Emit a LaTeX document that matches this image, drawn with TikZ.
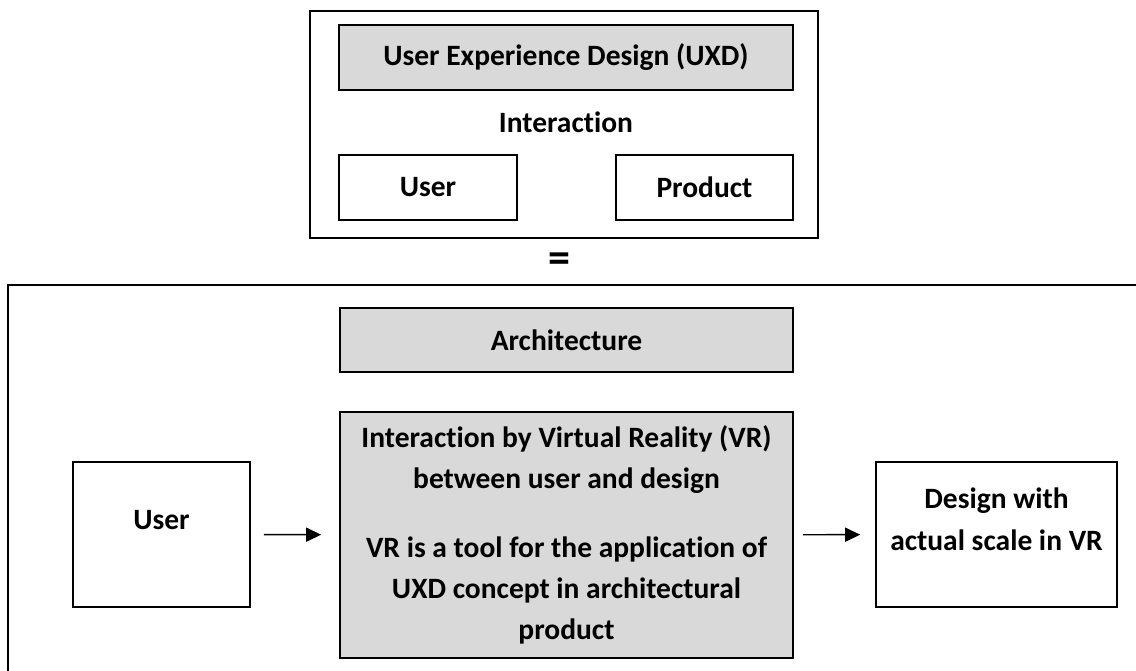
\documentclass[tikz,border=0pt]{standalone}
\usepackage{fontspec}
\setmainfont{Carlito}[Ligatures=NoCommon]
\usetikzlibrary{positioning}
\usetikzlibrary{arrows.meta}

\definecolor{boxgray}{HTML}{D9D9D9}

\begin{document}
\begin{tikzpicture}[x=1pt,y=-1pt,line width=1.6pt,
  every node/.style={font=\fontsize{29.5}{41}\selectfont\bfseries,align=center,inner sep=0pt},
  plainbox/.style={draw,rectangle,fill=white},
  graybox/.style={draw,rectangle,fill=boxgray},
  arr/.style={-{Triangle[length=15pt,width=14pt]},line width=1.4pt}]
  \useasboundingbox (0,0) rectangle (1136,671);
  % upper part
  \node[plainbox,minimum width=508pt,minimum height=227pt] (uxdframe) at (564,124.5){};
  \node[graybox,minimum width=454pt,minimum height=65pt] (uxd) at (566,57.5){User Experience Design (UXD)};
  \node (inter) at (566,122){Interaction};
  \node[plainbox,minimum width=178pt,minimum height=65pt] (user1) at (428,187.5){User};
  \node[plainbox,minimum width=177pt,minimum height=65pt] (product) at (704.5,187.5){Product};
  \node[font=\fontsize{44}{44}\selectfont\bfseries] (eq) at (559,262.5){=};
  % lower part
  \coordinate (fbl) at (8,680);
  \coordinate (ftl) at (8,285);
  \coordinate (ftr) at (1145,285);
  \draw (fbl)--(ftl)--(ftr);
  \node[graybox,minimum width=453pt,minimum height=64pt] (arch) at (566.5,340){Architecture};
  \node[graybox,minimum width=453pt,minimum height=246pt] (vr) at (566.5,535){Interaction by Virtual Reality (VR)\\between user and design\\[28pt]VR is a tool for the application of\\UXD concept in architectural\\product};
  \node[plainbox,minimum width=177pt,minimum height=145pt] (user2) at (161.5,534.5){};
  \node (userlbl) at (161.5,520){User};
  \node[plainbox,minimum width=241pt,minimum height=145pt] (design) at (996.5,534.5){};
  \node[font=\fontsize{29.5}{42}\selectfont\bfseries] (designlbl) at (996.5,519){Design with\\actual scale in VR};
  \draw[arr,shorten <=13pt,shorten >=18pt](user2)--(vr);
  \draw[arr,shorten <=9pt,shorten >=15pt](vr)--(design);
\end{tikzpicture}
\end{document}
